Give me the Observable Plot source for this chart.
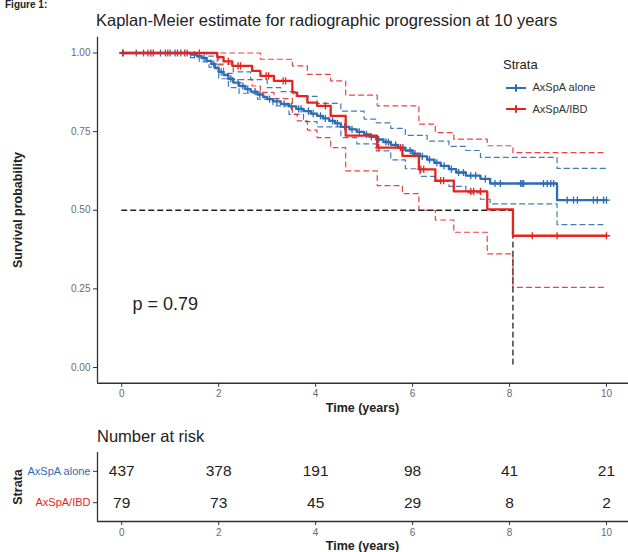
<!DOCTYPE html>
<html><head><meta charset="utf-8">
<script src="https://cdn.jsdelivr.net/npm/d3@7"></script>
<script src="https://cdn.jsdelivr.net/npm/@observablehq/plot@0.6"></script>
<style>
body{margin:0;background:#fff;font-family:"Liberation Sans",Arial,Helvetica,sans-serif;}
#wrap{position:relative;width:628px;height:552px;overflow:hidden;background:#fff;}
.abs{position:absolute;white-space:nowrap;line-height:1;}
#wrap svg{position:absolute;left:0;}
</style></head><body><div id="wrap"></div>
<script>
// ---------- data ----------
const strata = ["AxSpA alone", "AxSpA/IBD"];
const strataColors = ["#2E6DB4", "#E8221C"];
const xTicks = [0, 2, 4, 6, 8, 10];
const yTicks = [0, 0.25, 0.5, 0.75, 1];

const aloneTime = [0,1.42,1.55,1.65,1.75,1.85,1.92,2.0,2.1,2.2,2.3,2.42,2.55,2.66,2.8,2.92,3.0,3.12,3.28,3.45,3.6,3.75,3.9,4.03,4.15,4.28,4.4,4.52,4.7,4.85,5.0,5.12,5.25,5.4,5.55,5.7,5.85,6.0,6.15,6.3,6.45,6.58,6.75,6.9,7.1,7.4,7.6,8.98,10.0];
const aloneSurv = [1,0.995,0.99,0.984,0.975,0.965,0.952,0.94,0.93,0.918,0.906,0.895,0.885,0.877,0.868,0.86,0.853,0.846,0.838,0.83,0.822,0.815,0.807,0.80,0.792,0.784,0.776,0.765,0.757,0.749,0.741,0.733,0.725,0.717,0.708,0.699,0.69,0.68,0.671,0.661,0.651,0.641,0.631,0.62,0.61,0.60,0.585,0.532,0.532];
const aloneUpperTime = [0,1.75,2.0,2.3,2.66,3.0,3.28,3.6,4.03,4.52,5.0,5.25,5.55,5.85,6.3,6.75,7.1,7.4,8.98,10];
const aloneUpper = [1,0.99,0.965,0.94,0.915,0.89,0.877,0.862,0.84,0.815,0.79,0.778,0.76,0.738,0.72,0.703,0.69,0.668,0.633,0.633];
const aloneLowerTime = [0,1.42,1.6,1.8,2.0,2.2,2.42,2.8,3.12,3.45,3.75,4.03,4.52,4.85,5.25,5.55,5.85,6.15,6.45,6.75,7.1,7.4,7.6,8.98,10];
const aloneLower = [1,0.985,0.972,0.955,0.918,0.89,0.872,0.853,0.832,0.805,0.782,0.765,0.731,0.711,0.689,0.66,0.632,0.608,0.592,0.576,0.555,0.535,0.52,0.454,0.454];
const aloneCensor = [0.02,0.3,0.45,0.54,0.65,0.8,0.9,1.0,1.1,1.22,1.35,1.5,1.7,1.9,2.05,2.25,2.4,2.5,2.6,2.75,2.85,3.05,3.2,3.35,3.5,3.65,3.7,3.85,3.95,4.1,4.2,4.35,4.45,4.6,4.75,4.9,5.05,5.15,5.3,5.45,5.5,5.65,5.8,5.95,6.05,6.2,6.35,6.5,6.65,6.8,6.95,7.05,7.2,7.3,7.5,7.7,7.81,8.23,8.26,8.29,8.7,8.78,8.85,8.91,9.19,9.32,9.4,9.73,9.81,9.94,10.0];

const ibdTime = [0,1.97,2.1,2.28,2.69,2.86,3.14,3.52,3.62,3.83,4.03,4.31,4.62,5.27,5.79,6.13,6.47,6.85,7.54,8.07,10];
const ibdSurv = [1,0.987,0.973,0.959,0.943,0.927,0.911,0.874,0.863,0.842,0.832,0.80,0.737,0.699,0.673,0.63,0.594,0.56,0.503,0.419,0.419];
const ibdUpperTime = [0,2.86,3.52,3.83,4.31,4.62,5.27,6.13,6.47,6.85,7.54,8.07,10];
const ibdUpper = [1,0.98,0.959,0.932,0.911,0.866,0.832,0.774,0.747,0.726,0.705,0.683,0.683];
const ibdLowerTime = [0,1.97,2.1,2.28,2.69,2.86,3.14,3.52,3.62,3.83,4.03,4.31,4.62,5.27,5.79,6.13,6.47,6.85,7.54,8.07,10];
const ibdLower = [1,0.962,0.935,0.915,0.895,0.875,0.855,0.805,0.784,0.755,0.731,0.699,0.625,0.578,0.553,0.50,0.469,0.43,0.361,0.255,0.255];
const ibdCensor = [0.03,0.6,0.95,1.15,1.3,1.6,2.2,2.4,2.45,2.98,3.03,3.33,3.38,4.2,5.3,5.75,6.17,6.23,6.58,6.64,7.2,7.26,7.4,8.47,8.98,10.0];

const medianTime = [0, 8.07, 8.07];
const medianSurv = [0.5, 0.5, 0];

const pLabel = ["p = 0.79"];
const pPos = [0.22, 0.2];

const riskTimes = [0, 2, 4, 6, 8, 10];
const riskAlone = [437, 378, 191, 98, 41, 21];
const riskIbd = [79, 73, 45, 29, 8, 2];

// ---------- helpers ----------
const pts = (ts, vs) => ts.map((t, i) => ({t, s: vs[i]}));
const survAt = (ts, vs, t) => { let s = vs[0]; ts.forEach((tt, i) => { if (tt <= t) s = vs[i]; }); return s; };
const censorPts = (cs, ts, vs) => cs.map(t => ({t, s: survAt(ts, vs, t)}));
const plus = {draw(ctx, size) { const r = Math.sqrt(size / Math.PI); ctx.moveTo(-r, 0); ctx.lineTo(r, 0); ctx.moveTo(0, -r); ctx.lineTo(0, r); }};

const FONT = '"Liberation Sans", Arial, Helvetica, sans-serif';
const xDomain = [-0.5, 10.454];
const dash = "5,4";
const [cA, cI] = strataColors;

const wrap = document.getElementById("wrap");

// ---------- main KM plot ----------
const main = Plot.plot({
  width: 628, height: 420,
  marginLeft: 97, marginRight: 0, marginTop: 36.75, marginBottom: 37.25,
  x: {domain: xDomain},
  y: {domain: [-0.05, 1.05]},
  style: {fontFamily: FONT, background: "transparent", overflow: "visible"},
  marks: [
    Plot.axisX({ticks: xTicks, tickSize: 4, tickPadding: 3, fontSize: 10, color: "#6a6a6a", stroke: "#333", label: null}),
    Plot.axisY({ticks: yTicks, tickFormat: d3.format(".2f"), tickSize: 4, tickPadding: 3, fontSize: 10, color: "#6a6a6a", stroke: "#333", label: null}),
    Plot.line(pts(aloneUpperTime, aloneUpper), {x: "t", y: "s", curve: "step-after", stroke: cA, strokeWidth: 1.2, strokeDasharray: dash, strokeOpacity: 0.9}),
    Plot.line(pts(aloneLowerTime, aloneLower), {x: "t", y: "s", curve: "step-after", stroke: cA, strokeWidth: 1.2, strokeDasharray: dash, strokeOpacity: 0.9}),
    Plot.line(pts(ibdUpperTime, ibdUpper), {x: "t", y: "s", curve: "step-after", stroke: cI, strokeWidth: 1.2, strokeDasharray: dash, strokeOpacity: 0.85}),
    Plot.line(pts(ibdLowerTime, ibdLower), {x: "t", y: "s", curve: "step-after", stroke: cI, strokeWidth: 1.2, strokeDasharray: dash, strokeOpacity: 0.85}),
    Plot.line(pts(medianTime, medianSurv), {x: "t", y: "s", stroke: "#222", strokeWidth: 1.3, strokeDasharray: dash}),
    Plot.line(pts(aloneTime, aloneSurv), {x: "t", y: "s", curve: "step-after", stroke: cA, strokeWidth: 2.3}),
    Plot.dot(censorPts(aloneCensor, aloneTime, aloneSurv), {x: "t", y: "s", symbol: plus, r: 3.6, stroke: cA, fill: "none", strokeWidth: 1.3}),
    Plot.line(pts(ibdTime, ibdSurv), {x: "t", y: "s", curve: "step-after", stroke: cI, strokeWidth: 2.3}),
    Plot.dot(censorPts(ibdCensor, ibdTime, ibdSurv), {x: "t", y: "s", symbol: plus, r: 3.6, stroke: cI, fill: "none", strokeWidth: 1.3}),
    Plot.ruleX([xDomain[0]], {stroke: "#333", strokeWidth: 1.3}),
    Plot.ruleY([-0.05], {stroke: "#333", strokeWidth: 1.3}),
    Plot.text(pLabel, {x: () => pPos[0], y: () => pPos[1], text: d => d, fontSize: 18, textAnchor: "start", fill: "#222"})
  ]
});
main.style.top = "0px";
wrap.appendChild(main);

// ---------- risk table ----------
const riskRows = [];
riskTimes.forEach((t, i) => {
  riskRows.push({t, row: 1, n: riskAlone[i]});
  riskRows.push({t, row: 2, n: riskIbd[i]});
});
const table = Plot.plot({
  width: 628, height: 132,
  marginLeft: 97, marginRight: 0, marginTop: 32, marginBottom: 31,
  x: {domain: xDomain},
  y: {domain: [2.6, 0.4]},
  style: {fontFamily: FONT, background: "transparent", overflow: "visible"},
  marks: [
    Plot.axisX({ticks: xTicks, tickSize: 4, tickPadding: 3, fontSize: 10, color: "#6a6a6a", stroke: "#333", label: null}),
    Plot.axisY({ticks: [1, 2], tickFormat: () => "", tickSize: 4, stroke: "#333", label: null}),
    Plot.ruleX([xDomain[0]], {stroke: "#333", strokeWidth: 1.3}),
    Plot.ruleY([2.6], {stroke: "#333", strokeWidth: 1.3}),
    Plot.text(riskRows, {x: "t", y: "row", text: "n", fontSize: 15.5, fill: "#222"}),
    Plot.text([strata[0]], {y: () => 1, frameAnchor: "left", dx: -7, textAnchor: "end", text: d => d, fontSize: 11, fill: cA}),
    Plot.text([strata[1]], {y: () => 2, frameAnchor: "left", dx: -7, textAnchor: "end", text: d => d, fontSize: 11, fill: cI})
  ]
});
table.style.top = "420px";
wrap.appendChild(table);

// ---------- text and legend ----------
function addText(txt, css) {
  const d = document.createElement("div");
  d.className = "abs";
  d.textContent = txt;
  Object.assign(d.style, css);
  wrap.appendChild(d);
  return d;
}
addText("Figure 1:", {left: "5px", top: "0px", fontSize: "10px", fontWeight: "bold", color: "#222"});
addText("Kaplan-Meier estimate for radiographic progression at 10 years", {left: "96px", top: "11.5px", fontSize: "16.5px", color: "#222"});
addText("Time (years)", {left: "362.5px", top: "402px", transform: "translateX(-50%)", fontSize: "12.5px", fontWeight: "bold", color: "#222"});
addText("Survival probability", {left: "18px", top: "210px", transform: "translate(-50%,-50%) rotate(-90deg)", fontSize: "12.5px", fontWeight: "bold", color: "#222"});
addText("Number at risk", {left: "97px", top: "428px", fontSize: "16.5px", color: "#222"});
addText("Strata", {left: "18px", top: "487px", transform: "translate(-50%,-50%) rotate(-90deg)", fontSize: "12.5px", fontWeight: "bold", color: "#222"});
addText("Time (years)", {left: "362.5px", top: "540px", transform: "translateX(-50%)", fontSize: "12.5px", fontWeight: "bold", color: "#222"});

addText("Strata", {left: "503px", top: "57.5px", fontSize: "13px", color: "#222"});
const legendY = [87.7, 109.3];
strata.forEach((name, i) => {
  const ns = "http://www.w3.org/2000/svg";
  const svg = document.createElementNS(ns, "svg");
  svg.setAttribute("width", "24"); svg.setAttribute("height", "12");
  svg.style.position = "absolute"; svg.style.left = "504px"; svg.style.top = (legendY[i] - 6) + "px";
  const l = document.createElementNS(ns, "path");
  l.setAttribute("d", "M2,6H22M12,2.3V9.7");
  l.setAttribute("stroke", strataColors[i]); l.setAttribute("stroke-width", "2"); l.setAttribute("fill", "none");
  svg.appendChild(l);
  wrap.appendChild(svg);
  addText(name, {left: "532.5px", top: (legendY[i] - 5.5) + "px", fontSize: "11px", color: "#333"});
});
</script></body></html>
